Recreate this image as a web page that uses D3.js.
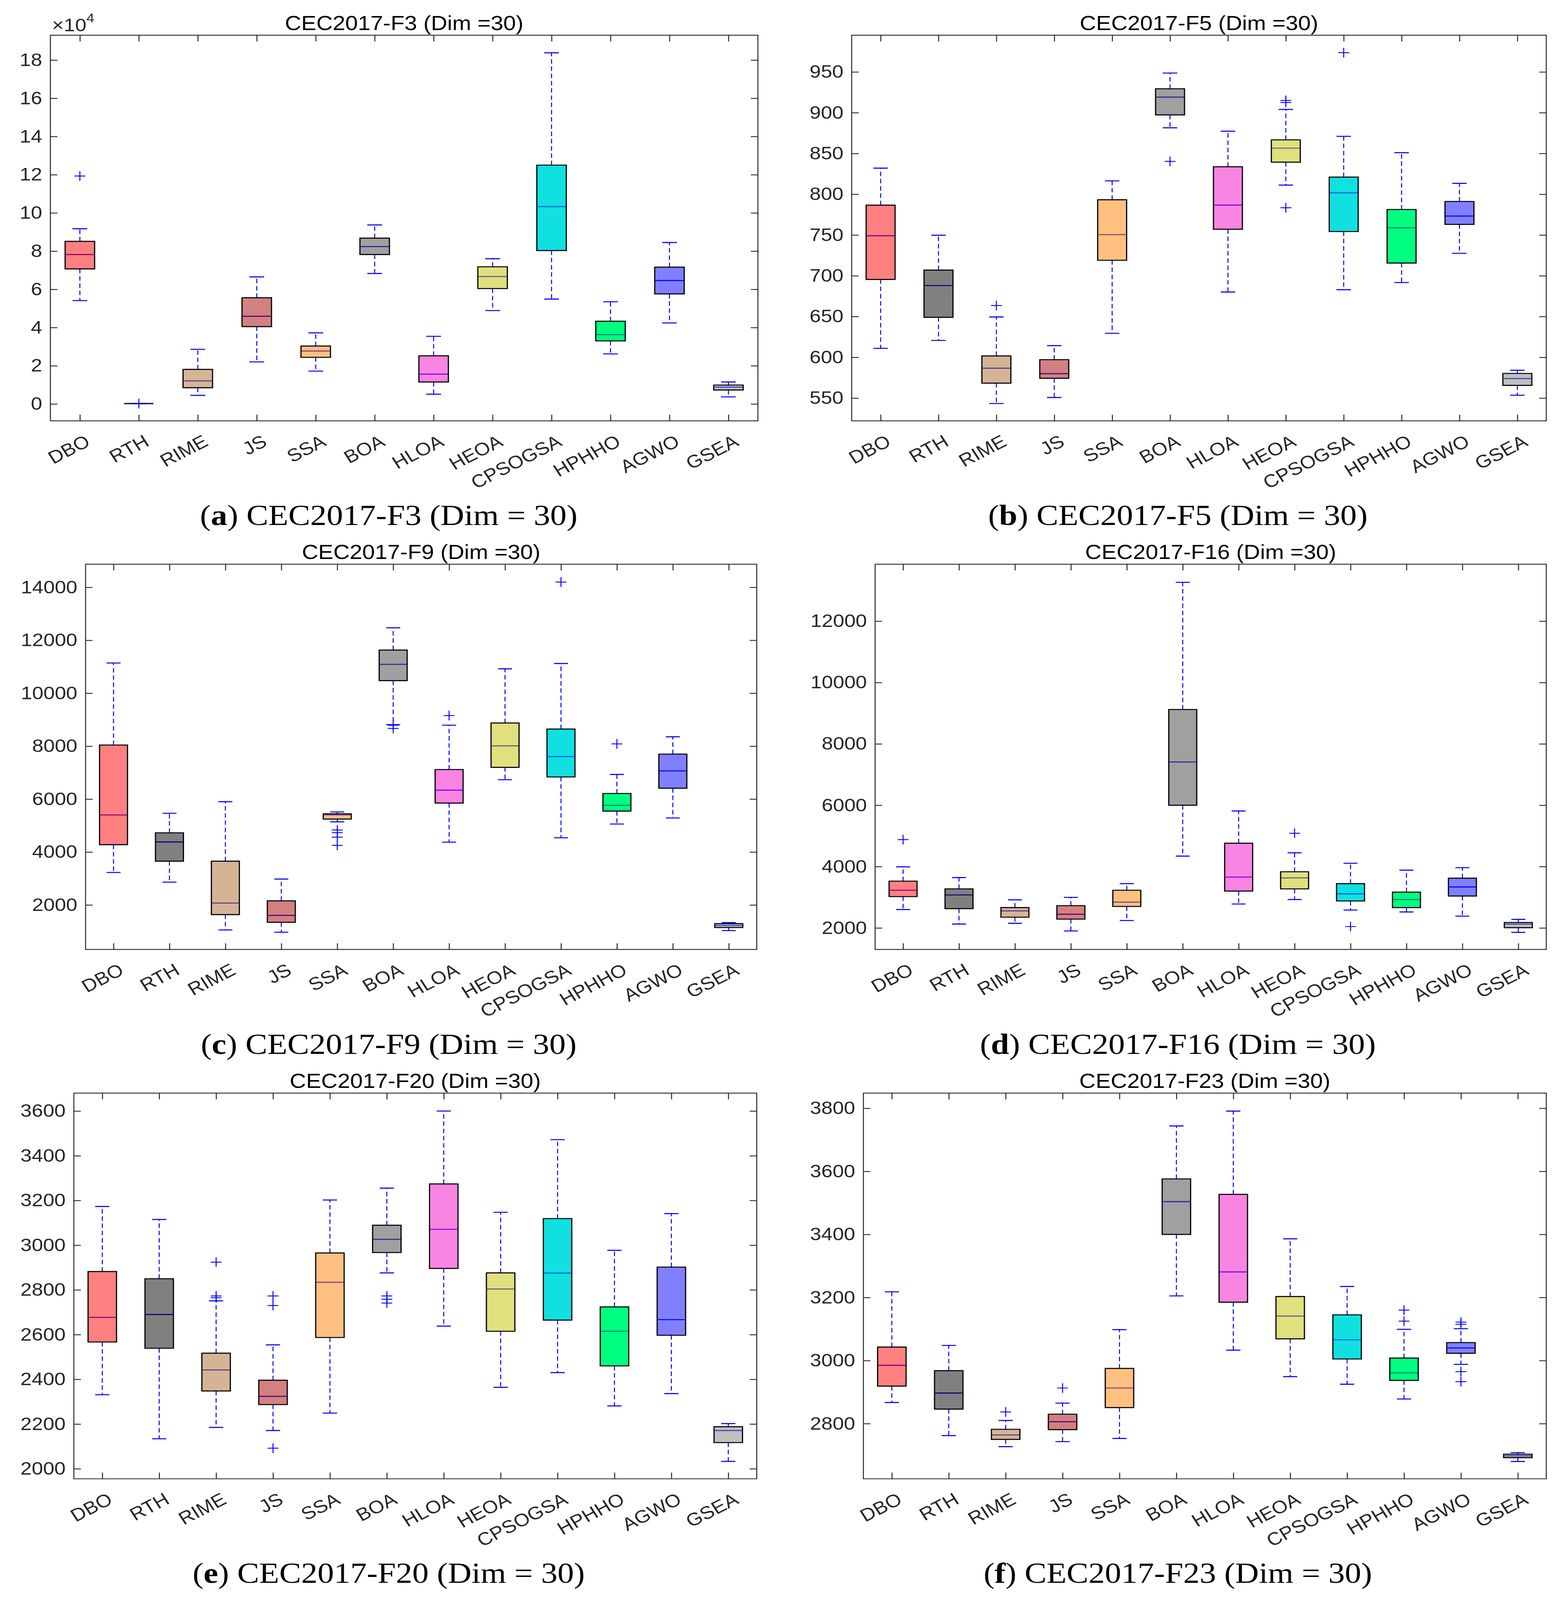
<!DOCTYPE html>
<html>
<head>
<meta charset="utf-8">
<script src="https://cdn.jsdelivr.net/npm/d3@7"></script>
<style>
  html, body { margin: 0; padding: 0; background: #fff; overflow: hidden; }
  svg { display: block; }
</style>
</head>
<body>
<svg id="chart"></svg>
<script>
const algorithms = ["DBO", "RTH", "RIME", "JS", "SSA", "BOA", "HLOA", "HEOA", "CPSOGSA", "HPHHO", "AGWO", "GSEA"];
const boxColors = ["#ff8080", "#808080", "#d5b496", "#d38080", "#ffc080", "#a0a0a0",
  "#f984e2", "#e0e07e", "#10e0e0", "#00ff7f", "#8080ff", "#c0c0c0"];

// each row: [lower whisker, Q1, median, Q3, upper whisker]
// F3 values are in units of 10^4
const f3Stats = [
  [5.41, 7.07, 7.82, 8.51, 9.17],
  [0.02, 0.02, 0.02, 0.02, 0.02],
  [0.45, 0.85, 1.21, 1.81, 2.86],
  [2.20, 4.05, 4.59, 5.56, 6.65],
  [1.72, 2.44, 2.77, 3.03, 3.72],
  [6.83, 7.82, 8.24, 8.68, 9.37],
  [0.51, 1.15, 1.56, 2.52, 3.54],
  [4.89, 6.04, 6.67, 7.18, 7.60],
  [5.49, 8.03, 10.33, 12.50, 18.38],
  [2.62, 3.30, 3.63, 4.33, 5.35],
  [4.24, 5.76, 6.46, 7.16, 8.45],
  [0.37, 0.73, 0.88, 0.99, 1.15]
];
const f3Outliers = [[0, 11.93], [1, 0.02]];
const f3Ticks = [0, 2, 4, 6, 8, 10, 12, 14, 16, 18];

const f5Stats = [
  [611, 695.5, 749, 786.6, 832],
  [620.7, 649, 688, 707, 749.7],
  [543.3, 568.3, 586.6, 601.7, 649.5],
  [550.7, 574.3, 579.9, 597.1, 614.3],
  [629.4, 719, 750.4, 793.2, 816.4],
  [881.5, 897.3, 919.1, 929.3, 948.6],
  [680, 757, 786.6, 833.7, 877.3],
  [811.2, 839.3, 856.5, 866.7, 904],
  [682.9, 754.2, 801.7, 821, 871],
  [691.7, 715.6, 758.8, 781.3, 850.9],
  [727.5, 763, 773.2, 791.1, 813.3],
  [553.5, 565.5, 573.9, 580.2, 584.1]
];
const f5Outliers = [[2, 663.5], [5, 840.3], [7, 915], [7, 912.5], [7, 783.4], [8, 973.6]];
const f5Ticks = [550, 600, 650, 700, 750, 800, 850, 900, 950];

const f9Stats = [
  [3227, 4277, 5400, 8042, 11141],
  [2863, 3653, 4381, 4725, 5463],
  [1054, 1636, 2073, 3653, 5900],
  [970, 1345, 1605, 2156, 2978],
  [5140, 5244, 5400, 5442, 5515],
  [8811, 10475, 11089, 11630, 12472],
  [4371, 5848, 6336, 7116, 8791],
  [6732, 7200, 8011, 8874, 10922],
  [4537, 6835, 7605, 8645, 11120],
  [5057, 5546, 5764, 6212, 6929],
  [5286, 6409, 7064, 7699, 8354],
  [1033, 1147, 1220, 1293, 1334]
];
const f9Outliers = [[4, 4830], [4, 4730], [4, 4560], [4, 4250], [5, 8790], [5, 8666],
  [6, 9155], [8, 14198], [9, 8083]];
const f9Ticks = [2000, 4000, 6000, 8000, 10000, 12000, 14000];

const f16Stats = [
  [2601, 3022, 3229, 3525, 3991],
  [2126, 2628, 3076, 3274, 3641],
  [2152, 2350, 2556, 2664, 2915],
  [1901, 2287, 2448, 2726, 2996],
  [2242, 2700, 2843, 3229, 3444],
  [4341, 6000, 7408, 9121, 13265],
  [2780, 3202, 3659, 4762, 5812],
  [2924, 3274, 3632, 3830, 4449],
  [2583, 2879, 3112, 3444, 4108],
  [2520, 2664, 2924, 3166, 3883],
  [2386, 3040, 3336, 3623, 3964],
  [1856, 2009, 2126, 2179, 2278]
];
const f16Outliers = [[0, 4879], [7, 5085], [8, 2045]];
const f16Ticks = [2000, 4000, 6000, 8000, 10000, 12000];

const f20Stats = [
  [2331, 2567, 2677, 2882, 3173],
  [2134, 2539, 2690, 2850, 3115],
  [2185, 2348, 2442, 2517, 2751],
  [2171, 2287, 2324, 2396, 2554],
  [2249, 2587, 2834, 2965, 3202],
  [2876, 2967, 3026, 3089, 3255],
  [2638, 2896, 3071, 3274, 3600],
  [2364, 2615, 2804, 2876, 3147],
  [2430, 2665, 2875, 3119, 3472],
  [2281, 2460, 2615, 2724, 2977],
  [2336, 2597, 2667, 2902, 3141],
  [2033, 2117, 2171, 2188, 2202]
];
const f20Outliers = [[2, 2924], [2, 2773], [2, 2765], [3, 2773], [3, 2730], [3, 2092],
  [5, 2773], [5, 2758], [5, 2741]];
const f20Ticks = [2000, 2200, 2400, 2600, 2800, 3000, 3200, 3400, 3600];

const f23Stats = [
  [2867, 2919, 2985, 3043, 3218],
  [2762, 2846, 2897, 2968, 3048],
  [2727, 2750, 2764, 2782, 2810],
  [2743, 2781, 2806, 2830, 2865],
  [2753, 2851, 2913, 2975, 3098],
  [3205, 3400, 3504, 3576, 3744],
  [3033, 3185, 3281, 3527, 3791],
  [2949, 3069, 3141, 3203, 3386],
  [2925, 3005, 3066, 3145, 3235],
  [2878, 2937, 2961, 3008, 3099],
  [2988, 3023, 3040, 3057, 3101],
  [2680, 2692, 2698, 2703, 2708]
];
const f23Outliers = [[2, 2837], [3, 2913], [9, 3160], [9, 3125], [10, 3122], [10, 3115],
  [10, 2965], [10, 2933]];
const f23Ticks = [2800, 3000, 3200, 3400, 3600, 3800];

// layout of the six axes (pixel boxes) and their y ranges
const panels = [
  { title: "CEC2017-F3 (Dim =30)", tag: "a", fn: "CEC2017-F3", stats: f3Stats, outliers: f3Outliers, ticks: f3Ticks,
    domain: [-0.886, 19.3], box: [129, 1940, 102, 1219], col: 995, exponent: 4 },
  { title: "CEC2017-F5 (Dim =30)", tag: "b", fn: "CEC2017-F5", stats: f5Stats, outliers: f5Outliers, ticks: f5Ticks,
    domain: [522, 995], box: [2180, 3958, 102, 1219], col: 3015 },
  { title: "CEC2017-F9 (Dim =30)", tag: "c", fn: "CEC2017-F9", stats: f9Stats, outliers: f9Outliers, ticks: f9Ticks,
    domain: [317, 14874], box: [219, 1937, 1634, 2750], col: 995 },
  { title: "CEC2017-F16 (Dim =30)", tag: "d", fn: "CEC2017-F16", stats: f16Stats, outliers: f16Outliers, ticks: f16Ticks,
    domain: [1297, 13857], box: [2240, 3958, 1634, 2750], col: 3015 },
  { title: "CEC2017-F20 (Dim =30)", tag: "e", fn: "CEC2017-F20", stats: f20Stats, outliers: f20Outliers, ticks: f20Ticks,
    domain: [1955, 3680], box: [189, 1937, 3166, 4283], col: 995 },
  { title: "CEC2017-F23 (Dim =30)", tag: "f", fn: "CEC2017-F23", stats: f23Stats, outliers: f23Outliers, ticks: f23Ticks,
    domain: [2625, 3848], box: [2210, 3958, 3166, 4283], col: 3015 }
];

const W = 4011, H = 4634;
const SANS = "'Liberation Sans', Arial, Helvetica, sans-serif";
const SERIF = "'Liberation Serif', 'Times New Roman', serif";
const TICK_LEN = 18;
const BLUE = "#0000ff";

// the median line shows the blue line seen through the box patch
function medianColor(c) {
  const rgb = d3.rgb(c);
  return d3.rgb(Math.max(0, rgb.r - 127), Math.max(0, rgb.g - 127), rgb.b).formatHex();
}

// fit the whole figure into whatever the window actually shows
const svg = d3.select("#chart")
  .attr("viewBox", `0 0 ${W} ${H}`)
  .attr("preserveAspectRatio", "none")
  .attr("width", window.innerWidth || W)
  .attr("height", window.innerHeight || H);
svg.append("rect").attr("width", W).attr("height", H).attr("fill", "#fff");

function drawPanel(p) {
  const [x0, x1, y0, y1] = p.box;
  const x = d3.scaleLinear().domain([0.5, 12.5]).range([x0, x1]);
  const y = d3.scaleLinear().domain(p.domain).range([y1, y0]);
  const g = svg.append("g");

  // y axis left (ticks inside)
  const yl = g.append("g").attr("transform", `translate(${x0},0)`)
    .call(d3.axisLeft(y).tickValues(p.ticks).tickFormat(d3.format("d"))
      .tickSizeInner(-TICK_LEN).tickSizeOuter(0).tickPadding(21));
  yl.select(".domain").remove();
  yl.selectAll("line").attr("stroke", "#262626").attr("stroke-width", 2.5);
  yl.selectAll("text").attr("font-family", SANS).attr("font-size", 52).attr("fill", "#262626");

  // y axis right, no labels
  const yr = g.append("g").attr("transform", `translate(${x1},0)`)
    .call(d3.axisRight(y).tickValues(p.ticks).tickSizeInner(-TICK_LEN).tickSizeOuter(0).tickFormat(""));
  yr.select(".domain").remove();
  yr.selectAll("line").attr("stroke", "#262626").attr("stroke-width", 2.5);

  // x axis top, no labels
  const xt = g.append("g").attr("transform", `translate(0,${y0})`)
    .call(d3.axisTop(x).tickValues(d3.range(1, 13)).tickSizeInner(-TICK_LEN).tickSizeOuter(0).tickFormat(""));
  xt.select(".domain").remove();
  xt.selectAll("line").attr("stroke", "#262626").attr("stroke-width", 2.5);

  // x axis bottom with rotated names
  const xb = g.append("g").attr("transform", `translate(0,${y1})`)
    .call(d3.axisBottom(x).tickValues(d3.range(1, 13)).tickSizeInner(-TICK_LEN).tickSizeOuter(0)
      .tickFormat(d => algorithms[d - 1]));
  xb.select(".domain").remove();
  xb.selectAll("line").attr("stroke", "#262626").attr("stroke-width", 2.5);
  xb.selectAll("text")
    .attr("font-family", SANS).attr("font-size", 52).attr("fill", "#262626")
    .attr("text-anchor", "end").attr("y", 0).attr("dy", "0.35em")
    .attr("transform", "translate(20,54) rotate(-30)");

  // axes frame
  g.append("path")
    .attr("d", `M${x0},${y0}H${x1}V${y1}H${x0}Z`)
    .attr("fill", "none").attr("stroke", "#262626").attr("stroke-width", 2.5);

  // title
  g.append("text")
    .attr("x", (x0 + x1) / 2).attr("y", y0 - 15)
    .attr("text-anchor", "middle")
    .attr("font-family", SANS).attr("font-size", 58).attr("fill", "#000")
    .text(p.title);

  if (p.exponent) {
    const ex = g.append("text")
      .attr("x", x0 + 4).attr("y", y0 - 11)
      .attr("font-family", SANS).attr("font-size", 52).attr("fill", "#262626");
    ex.append("tspan").text("\u00d710");
    ex.append("tspan").attr("font-size", 36).attr("dy", -26).text(p.exponent);
  }

  const half = 0.25, capHalf = 0.125;
  const data = p.stats.map((s, i) => ({ i: i + 1, lo: s[0], q1: s[1], med: s[2], q3: s[3], hi: s[4], color: boxColors[i] }));

  // whiskers
  g.append("g").selectAll("line").data(data).join("line")
    .attr("x1", d => x(d.i)).attr("x2", d => x(d.i))
    .attr("y1", d => y(d.q3)).attr("y2", d => y(d.hi))
    .attr("stroke", BLUE).attr("stroke-width", 2.5).attr("stroke-dasharray", "13,8");
  g.append("g").selectAll("line").data(data).join("line")
    .attr("x1", d => x(d.i)).attr("x2", d => x(d.i))
    .attr("y1", d => y(d.q1)).attr("y2", d => y(d.lo))
    .attr("stroke", BLUE).attr("stroke-width", 2.5).attr("stroke-dasharray", "13,8");
  // caps
  ["hi", "lo"].forEach(k => {
    g.append("g").selectAll("line").data(data).join("line")
      .attr("x1", d => x(d.i - capHalf)).attr("x2", d => x(d.i + capHalf))
      .attr("y1", d => y(d[k])).attr("y2", d => y(d[k]))
      .attr("stroke", BLUE).attr("stroke-width", 3);
  });

  // outliers (+)
  g.append("g").selectAll("path").data(p.outliers).join("path")
    .attr("d", d => {
      const cx = x(d[0] + 1), cy = y(d[1]), r = 14;
      return `M${cx - r},${cy}H${cx + r}M${cx},${cy - r}V${cy + r}`;
    })
    .attr("stroke", BLUE).attr("stroke-width", 2.5).attr("fill", "none");

  // boxes
  g.append("g").selectAll("path").data(data).join("path")
    .attr("d", d => `M${x(d.i - half)},${y(d.q3)}H${x(d.i + half)}V${y(d.q1)}H${x(d.i - half)}Z`)
    .attr("fill", d => d.color).attr("stroke", "#000").attr("stroke-width", 3);

  // medians
  g.append("g").selectAll("line").data(data).join("line")
    .attr("x1", d => x(d.i - half) + 1.5).attr("x2", d => x(d.i + half) - 1.5)
    .attr("y1", d => y(d.med)).attr("y2", d => y(d.med))
    .attr("stroke", d => medianColor(d.color)).attr("stroke-width", 3);

  // caption under the panel
  const cap = svg.append("text")
    .attr("x", p.col).attr("y", y0 + 1418)
    .attr("text-anchor", "middle")
    .attr("font-family", SERIF).attr("font-size", 84).attr("fill", "#000");
  cap.append("tspan").text("(");
  cap.append("tspan").attr("font-weight", "bold").text(p.tag);
  cap.append("tspan").text(`) ${p.fn} (Dim = 30)`);
}

panels.forEach(drawPanel);
</script>
</body>
</html>
